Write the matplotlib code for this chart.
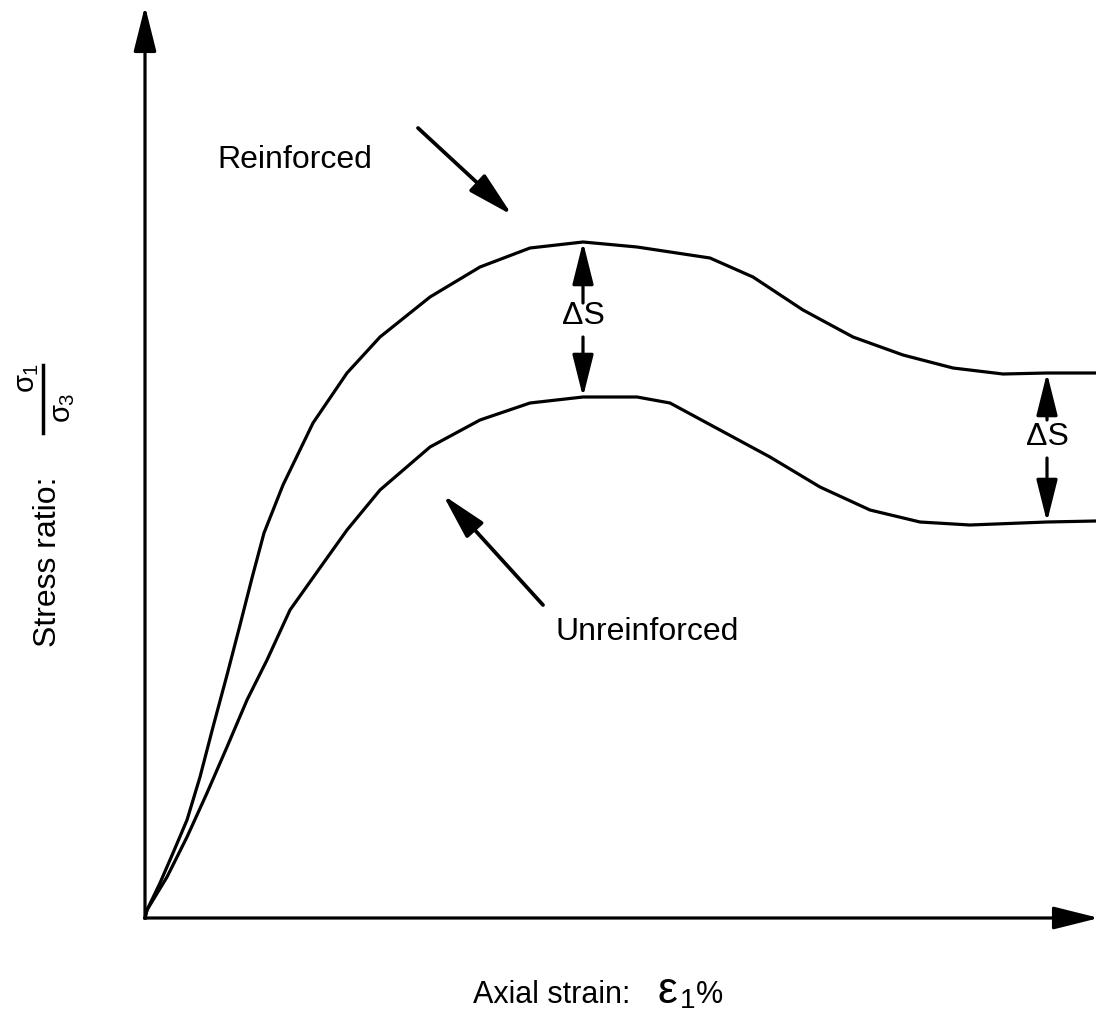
import matplotlib
matplotlib.use("Agg")
import matplotlib.pyplot as plt

plt.rcParams['font.family'] = ['Liberation Sans', 'DejaVu Sans']
plt.rcParams['mathtext.fontset'] = 'custom'
plt.rcParams['mathtext.rm'] = 'Liberation Sans'
plt.rcParams['mathtext.it'] = 'Liberation Sans'

# schematic curves, arbitrary units (origin at the axes corner)
strain_reinf = [0, 2, 15, 28, 42, 55, 68, 82, 95, 107, 119, 138, 168, 202, 235,
                285, 335, 385, 438, 492, 565, 608, 658, 708, 758, 808, 858, 902, 951]
stress_reinf = [0, 8, 35, 65, 98, 141, 191, 243, 293, 340, 385, 433, 495, 545, 581,
                621, 651, 670, 676, 671, 660, 641, 608, 581, 563, 550, 544, 545, 545]

strain_unreinf = [0, 2, 22, 42, 62, 82, 102, 122, 145, 177, 202, 235, 285, 335, 385,
                  438, 492, 525, 575, 625, 675, 725, 775, 825, 902, 951]
stress_unreinf = [0, 8, 41, 81, 125, 171, 218, 258, 308, 353, 388, 428, 471, 498, 515,
                  521, 521, 515, 488, 461, 431, 408, 396, 393, 396, 397]

W, H = 1096, 1023
fig = plt.figure(figsize=(W / 100, H / 100), dpi=100)
ax = fig.add_axes([145 / W, (H - 918) / H, (W - 145) / W, (918 - 10) / H])
ax.set_xlim(0, 951)
ax.set_ylim(0, 908)
ax.axis('off')

lw = 2.3
ax.plot(strain_reinf, stress_reinf, color='black', lw=lw, clip_on=False,
        solid_joinstyle='round')
ax.plot(strain_unreinf, stress_unreinf, color='black', lw=lw, clip_on=False,
        solid_joinstyle='round')

head = dict(arrowstyle='-|>,head_length=2.8,head_width=0.7', color='black',
            lw=lw, mutation_scale=10, shrinkA=0, shrinkB=0)

# axes arrows
ax.annotate('', xy=(0, 912), xytext=(0, 0), arrowprops=head, annotation_clip=False)
ax.annotate('', xy=(954, 0), xytext=(0, 0), arrowprops=head, annotation_clip=False)

# delta S arrows
dhead = dict(arrowstyle='-|>,head_length=2.6,head_width=0.65', color='black',
             lw=lw, mutation_scale=10, shrinkA=0, shrinkB=0)
i1 = strain_reinf.index(438)
j1 = strain_unreinf.index(438)
x1 = strain_reinf[i1]
ax.annotate('', xy=(x1, stress_reinf[i1]), xytext=(x1, 615), arrowprops=dhead)
ax.annotate('', xy=(x1, stress_unreinf[j1]), xytext=(x1, 581), arrowprops=dhead)
ax.text(x1, 602, 'ΔS', ha='center', va='center', fontsize=23)

i2 = strain_reinf.index(902)
j2 = strain_unreinf.index(902)
x2 = strain_reinf[i2]
ax.annotate('', xy=(x2, stress_reinf[i2]), xytext=(x2, 498), arrowprops=dhead)
ax.annotate('', xy=(x2, stress_unreinf[j2]), xytext=(x2, 460), arrowprops=dhead)
ax.text(x2, 481, 'ΔS', ha='center', va='center', fontsize=23)

# curve labels
lhead = dict(arrowstyle='-|>,head_length=2.8,head_width=0.7', color='black',
             lw=lw + 0.4, mutation_scale=10, shrinkA=0, shrinkB=0)
ax.text(72, 758, 'Reinforced', ha='left', va='center', fontsize=23)
ax.annotate('', xy=(367, 703), xytext=(273, 790), arrowprops=lhead)
ax.text(410, 286, 'Unreinforced', ha='left', va='center', fontsize=23)
ax.annotate('', xy=(298, 423), xytext=(398, 313), arrowprops=lhead)

# axis labels
fig.text(48 / W, 1 - 562 / H, 'Stress ratio:', rotation=90, ha='center',
         va='center', fontsize=23)
fig.text(27 / W, 1 - 378 / H, r'$\sigma_1$', rotation=90, ha='center',
         va='center', fontsize=21)
fig.text(63 / W, 1 - 408 / H, r'$\sigma_3$', rotation=90, ha='center',
         va='center', fontsize=21)
fig.add_artist(plt.Line2D([43 / W, 43 / W], [1 - 365 / H, 1 - 433 / H],
                          color='black', lw=2.5))

fig.text(552 / W, 1 - 1003 / H, 'Axial strain:', ha='center', va='baseline',
         fontsize=22)
fig.text(667 / W, 1 - 1003 / H, 'ε', ha='center', va='baseline', fontsize=32)
fig.text(680 / W, 1 - 1008 / H, '1', ha='left', va='baseline', fontsize=20)
fig.text(696 / W, 1 - 1003 / H, '%', ha='left', va='baseline', fontsize=22)

fig.savefig('out.png', dpi=100)
